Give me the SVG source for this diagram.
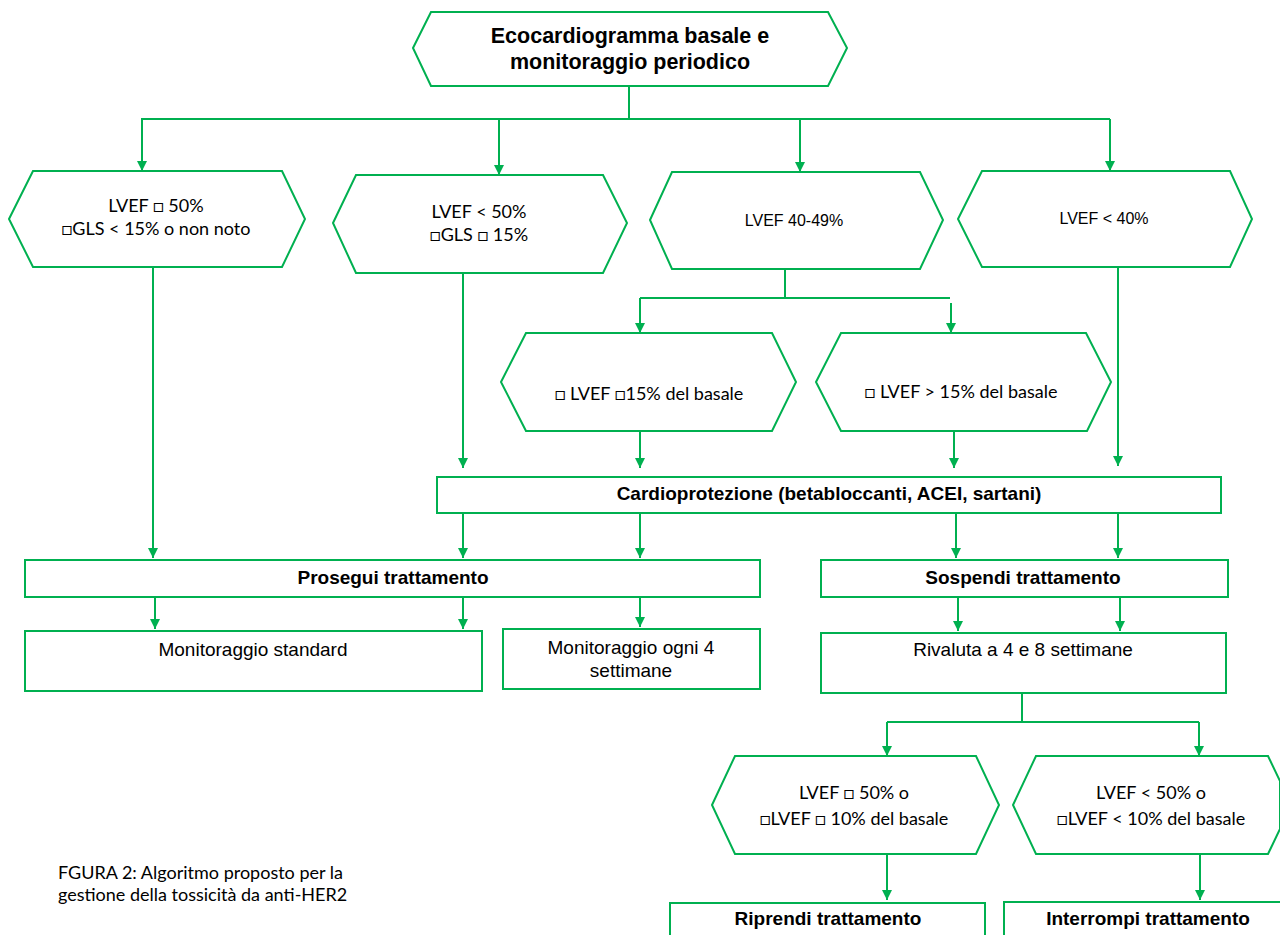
<svg xmlns="http://www.w3.org/2000/svg" width="1280" height="935" viewBox="0 0 1280 935">
<style>
.s{fill:#fff;stroke:#00B050;stroke-width:2}
.c{fill:none;stroke:#00B050;stroke-width:2}
.a{fill:none;stroke:#00B050;stroke-width:2;marker-end:url(#ah)}
.ar{font-family:"Liberation Sans",Arial,sans-serif;fill:#000;text-anchor:middle}
.b{font-weight:bold}
.ca{font-family:Lato,"Liberation Sans","DejaVu Sans",sans-serif;fill:#000;text-anchor:middle;font-size:18px}
.cap{font-family:Lato,"Liberation Sans",sans-serif;fill:#000;font-size:18px}
</style>
<defs>
<marker id="ah" viewBox="0 0 10 10" refX="10" refY="5" markerWidth="11" markerHeight="10" markerUnits="userSpaceOnUse" orient="auto">
<path d="M0,0 L10,5 L0,10 z" fill="#00B050"/>
</marker>
</defs>
<rect width="1280" height="935" fill="#fff"/>
<g id="connectors">
<path class="c" d="M629,86 V119 M141,119 H1110"/>
<path class="a" d="M142,119 V171"/>
<path class="a" d="M499,119 V175"/>
<path class="a" d="M800,119 V172"/>
<path class="a" d="M1110,119 V171"/>
<path class="a" d="M153,267 V558"/>
<path class="a" d="M463,273 V468"/>
<path class="c" d="M785,269 V298 M640,298 H950"/>
<path class="a" d="M640,298 V333"/>
<path class="a" d="M951,303 V333"/>
<path class="a" d="M640,431 V468"/>
<path class="a" d="M954,431 V468"/>
<path class="a" d="M1118,267 V466"/>
<path class="a" d="M463,514 V558"/>
<path class="a" d="M640,514 V558"/>
<path class="a" d="M956,514 V558"/>
<path class="a" d="M1118,514 V558"/>
<path class="a" d="M155,598 V629"/>
<path class="a" d="M463,598 V629"/>
<path class="a" d="M640,598 V627"/>
<path class="a" d="M958,598 V631"/>
<path class="a" d="M1120,598 V631"/>
<path class="c" d="M1022,693 V722 M887,722 H1199"/>
<path class="a" d="M887,722 V756"/>
<path class="a" d="M1199,722 V756"/>
<path class="a" d="M887,854 V900"/>
<path class="a" d="M1200,854 V900"/>
</g>
<g id="n-top">
<polygon class="s" points="413,48 431,12 828,12 847,48 828,86 431,86"/>
<text class="ar b" x="630" y="43" font-size="21.5">Ecocardiogramma basale e</text>
<text class="ar b" x="630" y="69" font-size="21.5">monitoraggio periodico</text>
</g>
<g id="n-a">
<polygon class="s" points="9,219 33,171 282,171 305,219 282,267 33,267"/>
<text class="ca" x="156" y="212">LVEF □ 50%</text>
<text class="ca" x="156" y="235">□GLS &lt; 15% o non noto</text>
</g>
<g id="n-b">
<polygon class="s" points="333,223 356,175 603,175 627,223 603,273 356,273"/>
<text class="ca" x="479" y="218">LVEF &lt; 50%</text>
<text class="ca" x="479" y="241">□GLS □ 15%</text>
</g>
<g id="n-c">
<polygon class="s" points="650,220 672,172 920,172 943,220 920,269 672,269"/>
<text class="ar" x="794" y="226" font-size="16">LVEF 40-49%</text>
</g>
<g id="n-d">
<polygon class="s" points="958,219 982,171 1230,171 1252,219 1230,267 982,267"/>
<text class="ar" x="1104" y="224" font-size="16">LVEF &lt; 40%</text>
</g>
<g id="n-e">
<polygon class="s" points="501,382 526,333 772,333 796,382 772,431 526,431"/>
<text class="ca" x="649" y="400">□ LVEF □15% del basale</text>
</g>
<g id="n-f">
<polygon class="s" points="816,382 841,333 1086,333 1111,382 1087,431 841,431"/>
<text class="ca" x="961" y="398">□ LVEF &gt; 15% del basale</text>
</g>
<g id="n-cardio">
<rect class="s" x="437" y="477" width="784" height="36"/>
<text class="ar b" x="829" y="500" font-size="19">Cardioprotezione (betabloccanti, ACEI, sartani)</text>
</g>
<g id="n-prosegui">
<rect class="s" x="25" y="560" width="735" height="37"/>
<text class="ar b" x="393" y="584" font-size="19">Prosegui trattamento</text>
</g>
<g id="n-sospendi">
<rect class="s" x="821" y="560" width="407" height="37"/>
<text class="ar b" x="1023" y="584" font-size="19">Sospendi trattamento</text>
</g>
<g id="n-monstd">
<rect class="s" x="25" y="631" width="457" height="60"/>
<text class="ar" x="253" y="656" font-size="19">Monitoraggio standard</text>
</g>
<g id="n-mon4">
<rect class="s" x="503" y="629" width="257" height="60"/>
<text class="ar" x="631" y="654" font-size="19">Monitoraggio ogni 4</text>
<text class="ar" x="631" y="677" font-size="19">settimane</text>
</g>
<g id="n-rivaluta">
<rect class="s" x="821" y="633" width="405" height="60"/>
<text class="ar" x="1023" y="656" font-size="19">Rivaluta a 4 e 8 settimane</text>
</g>
<g id="n-g">
<polygon class="s" points="712,805 735,756 976,756 999,805 976,854 735,854"/>
<text class="ca" x="854" y="799">LVEF □ 50% o</text>
<text class="ca" x="854" y="825">□LVEF □ 10% del basale</text>
</g>
<g id="n-h">
<polygon class="s" points="1013,805 1036,756 1268,756 1280,781 1280,829 1268,854 1036,854"/>
<text class="ca" x="1151" y="799">LVEF &lt; 50% o</text>
<text class="ca" x="1151" y="825">□LVEF &lt; 10% del basale</text>
</g>
<g id="n-riprendi">
<rect class="s" x="670" y="903" width="315" height="50"/>
<text class="ar b" x="828" y="925" font-size="19">Riprendi trattamento</text>
</g>
<g id="n-interrompi">
<rect class="s" x="1004" y="902" width="300" height="50"/>
<text class="ar b" x="1148" y="925" font-size="19">Interrompi trattamento</text>
</g>
<g id="caption">
<text class="cap" x="58" y="879">FGURA 2: Algoritmo proposto per la</text>
<text class="cap" x="58" y="901">gestione della tossicità da anti-HER2</text>
</g>
</svg>
